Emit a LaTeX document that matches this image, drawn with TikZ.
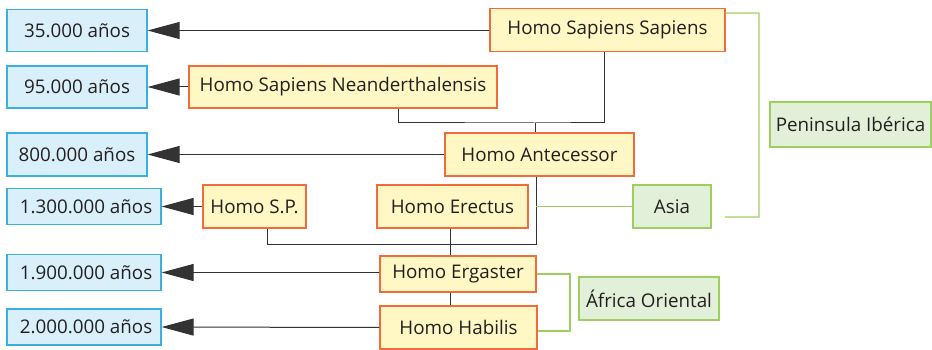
\documentclass[tikz,border=0pt]{standalone}
\usepackage{fontspec}
\setmainfont{Open Sans}
\usetikzlibrary{arrows.meta,calc}
\definecolor{bfill}{HTML}{D9F0FA}
\definecolor{bdraw}{HTML}{3BB0E0}
\definecolor{ofill}{HTML}{FFF8C4}
\definecolor{odraw}{HTML}{F26B3A}
\definecolor{gfill}{HTML}{E2EFD9}
\definecolor{gdraw}{HTML}{9CCF5E}
\definecolor{txt}{HTML}{231F20}
\definecolor{ln}{HTML}{333333}
\tikzset{
  box/.style={rectangle, line width=1.2pt, inner sep=0pt, text=txt, font=\fontsize{18.8}{21}\selectfont},
  bluebox/.style={box, draw=bdraw, fill=bfill},
  orbox/.style={box, draw=odraw, fill=ofill},
  grbox/.style={box, draw=gdraw, fill=gfill},
  arr/.style={draw=ln, line width=1pt, -{Triangle[length=32pt,width=17pt]}},
  conn/.style={draw=ln, line width=1pt},
  gconn/.style={draw=gdraw, line width=1.2pt},
}
\begin{document}
\begin{tikzpicture}[x=1pt,y=-1pt]
\useasboundingbox (0,0) rectangle (932,350);
% time boxes
\node[bluebox, minimum width=140, minimum height=42] (y35) at (77,30.5) {35.000 años\hspace{10pt}};
\node[bluebox, minimum width=140, minimum height=42] (y95) at (77,87) {95.000 años\hspace{10pt}};
\node[bluebox, minimum width=140, minimum height=43] (y800) at (77,154.5) {800.000 años\hspace{6pt}};
\node[bluebox, minimum width=154, minimum height=36] (y1300) at (84,206.5) {\hspace{4pt}1.300.000 años};
\node[bluebox, minimum width=154, minimum height=36] (y1900) at (84,272.5) {\hspace{4pt}1.900.000 años};
\node[bluebox, minimum width=154, minimum height=36] (y2000) at (84,327) {\hspace{4pt}2.000.000 años};
% species
\node[orbox, minimum width=235, minimum height=43] (hss) at (607.5,30) {Homo Sapiens Sapiens};
\node[orbox, minimum width=308, minimum height=42] (nea) at (343,87) {Homo Sapiens Neanderthalensis};
\node[orbox, minimum width=189, minimum height=43] (ant) at (539.5,154.5) {Homo Antecessor};
\node[orbox, minimum width=103, minimum height=43] (hsp) at (254.5,206.5) {Homo S.P.};
\node[orbox, minimum width=151, minimum height=43] (ere) at (452.5,206.5) {Homo Erectus};
\node[orbox, minimum width=156, minimum height=36] (erg) at (458,274) {Homo Ergaster};
\node[orbox, minimum width=157, minimum height=43] (hab) at (458.5,327.5) {Homo Habilis};
% places
\node[grbox, minimum width=161, minimum height=45] (pen) at (850.5,124.5) {Peninsula Ibérica};
\node[grbox, minimum width=78, minimum height=43] (asia) at (672,206.5) {Asia};
\node[grbox, minimum width=140, minimum height=43] (afr) at (649,298.5) {África Oriental};
% arrows to dates
\draw[arr] (hss.west |- y35.east) -- (y35.east);
\draw[arr] (nea.west) -- (y95.east);
\draw[arr] (ant.west) -- (y800.east);
\draw[arr] (hsp.west) -- (y1300.east);
\draw[arr] (erg.west |- y1900.east) -- (y1900.east);
\draw[arr] (hab.west) -- (y2000.east);
% tree
\coordinate (j1) at (535,123);
\coordinate (j2) at (536,244);
\draw[conn] ($(nea.south)+(55,0)$) |- (j1) -| ($(hss.south)+(-3.5,0)$);
\draw[conn] (j1) -- (j1 |- ant.north);
\draw[conn] (j2 |- ant.south) -- (j2) -| ($(hsp.south)+(12.5,0)$);
\draw[conn] ($(ere.south)+(-2.5,0)$) -- ($(erg.north)+(-8,0)$);
\draw[conn] ($(erg.south)+(-8,0)$) -- ($(hab.north)+(-8.5,0)$);
% green
\draw[gconn] (j2 |- asia.west) -- (asia.west);
\draw[gconn] ($(hss.north east)+(0,5)$) -- (759,13) -- (759,217) -- (725,217);
\draw[gconn] (erg.east) -| (570,331) -- (hab.east |- 0,331);
\end{tikzpicture}
\end{document}
